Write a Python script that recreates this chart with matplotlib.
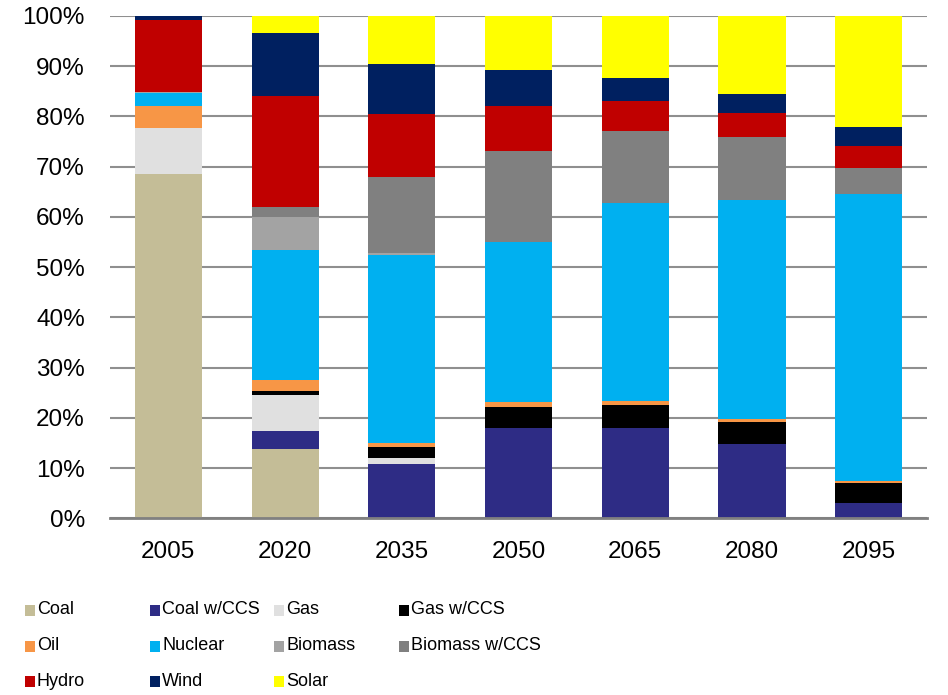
import numpy as np
import matplotlib
matplotlib.use("Agg")
from matplotlib import pyplot as plt
from matplotlib.patches import Rectangle
from matplotlib.ticker import FuncFormatter

years = ["2005", "2020", "2035", "2050", "2065", "2080", "2095"]

# share of generation by source, percent
coal = [68.6, 13.9, 0.0, 0.0, 0.0, 0.0, 0.0]
coal_ccs = [0.0, 3.6, 10.8, 18.0, 18.0, 14.8, 3.0]
gas = [9.1, 7.1, 1.2, 0.0, 0.0, 0.0, 0.0]
gas_ccs = [0.0, 0.8, 2.2, 4.2, 4.5, 4.4, 4.1]
oil = [4.4, 2.2, 0.9, 0.9, 0.9, 0.5, 0.4]
nuclear = [2.5, 25.8, 37.4, 31.9, 39.4, 43.7, 57.0]
biomass = [0.3, 6.6, 0.4, 0.0, 0.0, 0.0, 0.0]
biomass_ccs = [0.0, 1.9, 15.1, 18.2, 14.3, 12.5, 5.3]
hydro = [14.4, 22.2, 12.5, 8.9, 5.9, 4.7, 4.4]
wind = [0.7, 12.5, 10.0, 7.2, 4.7, 3.9, 3.8]
solar = [0.0, 3.4, 9.5, 10.7, 12.3, 15.5, 22.0]

names = ["Coal", "Coal w/CCS", "Gas", "Gas w/CCS", "Oil", "Nuclear",
         "Biomass", "Biomass w/CCS", "Hydro", "Wind", "Solar"]
series = [coal, coal_ccs, gas, gas_ccs, oil, nuclear,
          biomass, biomass_ccs, hydro, wind, solar]
colors = ["#C4BD97", "#2E2C85", "#E0E0E0", "#000000", "#F79646", "#00B0F0",
          "#A3A3A3", "#808080", "#C00000", "#002060", "#FFFF00"]

plt.rcParams['font.family'] = ['Liberation Sans', 'DejaVu Sans']

fig = plt.figure(figsize=(9.48, 6.95), dpi=100)
ax = fig.add_axes([0.116, 0.254, 0.862, 0.723])

x = np.arange(len(years))
bottom = np.zeros(len(years))
for name, vals, col in zip(names, series, colors):
	vals = np.array(vals) / 100.0
	ax.bar(x, vals, width=0.575, bottom=bottom, color=col,
		   edgecolor="none", zorder=3)
	bottom += vals

ax.set_xlim(-0.5, len(years) - 0.5)
ax.set_ylim(0, 1.0)
ax.set_yticks(np.arange(0, 1.01, 0.1))
ax.yaxis.set_major_formatter(FuncFormatter(lambda v, p: "%d%%" % round(v * 100)))
ax.set_xticks(x)
ax.set_xticklabels(years)
ax.tick_params(axis="both", length=0, labelsize=17.5, colors="black")
ax.tick_params(axis="x", pad=16)
ax.tick_params(axis="y", pad=18)

ax.grid(axis="y", color="#8F8F8F", linewidth=1.5, zorder=0)
for side in ["left", "right", "top"]:
	ax.spines[side].set_visible(False)
ax.spines["bottom"].set_color("#808080")
ax.spines["bottom"].set_linewidth(2)
ax.spines["bottom"].set_zorder(4)

# legend laid out row by row, four to a row
col_x = [25, 150, 274, 399]
row_y = [610, 646, 681]
W, H = 948.0, 695.0
for i, (name, col) in enumerate(zip(names, colors)):
	r, c = divmod(i, 4)
	px, py = col_x[c], row_y[r]
	fig.add_artist(Rectangle((px / W, 1 - (py + 5.5) / H), 10 / W, 11 / H,
							 transform=fig.transFigure, facecolor=col,
							 edgecolor="none"))
	fig.text((px + 12) / W, 1 - py / H, name, fontsize=13,
			 ha="left", va="center", color="black")

fig.savefig("out.png", dpi=100)
